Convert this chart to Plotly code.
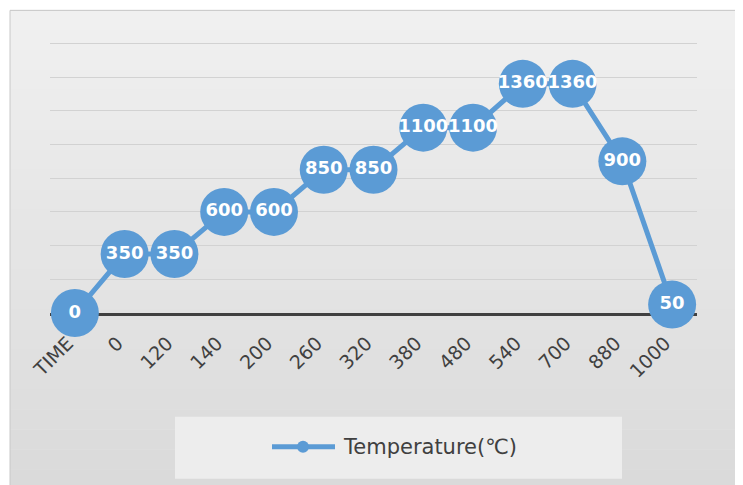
import plotly.graph_objects as go

categories = ["TIME", "0", "120", "140", "200", "260", "320", "380", "480", "540", "700", "880", "1000"]
temperature = [0, 350, 350, 600, 600, 850, 850, 1100, 1100, 1360, 1360, 900, 50]
series_name = "Temperature(℃)"
grid_values = [200, 400, 600, 800, 1000, 1200, 1400, 1600]

BLUE = "#5b9bd5"
OFF = 8                      # page body margin
W, H = 743 - OFF, 485 - OFF  # figure size so it fits the window
YMAX = 1620
PL, PR, PB = 50, 697, 313    # plot area in page pixels
PT = PB - 270 * YMAX / 1600
L, T = PL - OFF, PT - OFF
R, B = W - (PR - OFF), H - (PB - OFF)
pw, ph = PR - PL, PB - PT

def px_x(p):
    return (p - PL) / pw

def px_y(p):
    return (PB - p) / ph

shapes = []
# chart area background with a soft vertical gradient
n = 24
top_c, bot_c = (0xf0, 0xf0, 0xf0), (0xda, 0xda, 0xda)
y_top, y_bot = 10, 490
for i in range(n):
    f = i / (n - 1)
    c = tuple(int(round(top_c[k] + (bot_c[k] - top_c[k]) * f)) for k in range(3))
    y0 = y_top + (y_bot - y_top) * i / n
    y1 = y_top + (y_bot - y_top) * (i + 1) / n
    shapes.append(dict(type="rect", xref="paper", yref="paper",
                       x0=px_x(10), x1=px_x(760), y0=px_y(y1), y1=px_y(y0) + 0.002,
                       fillcolor="rgb(%d,%d,%d)" % c, line=dict(width=0), layer="below"))
# thin border at top/left of chart area
shapes.append(dict(type="rect", xref="paper", yref="paper",
                   x0=px_x(10), x1=px_x(760), y0=px_y(500), y1=px_y(10),
                   fillcolor="rgba(0,0,0,0)", line=dict(color="#c8c8c8", width=1), layer="below"))
# legend box
shapes.append(dict(type="rect", xref="paper", yref="paper",
                   x0=px_x(175), x1=px_x(622), y0=px_y(479), y1=px_y(417),
                   fillcolor="#ededed", line=dict(width=0), layer="below"))
# legend symbol: line + marker
shapes.append(dict(type="line", xref="paper", yref="paper",
                   x0=px_x(272), x1=px_x(335), y0=px_y(447), y1=px_y(447),
                   line=dict(color=BLUE, width=5)))
shapes.append(dict(type="circle", xref="paper", yref="paper",
                   x0=px_x(297), x1=px_x(309), y0=px_y(453), y1=px_y(441),
                   fillcolor=BLUE, line=dict(width=0)))

fig = go.Figure()
fig.add_trace(go.Scatter(
    x=categories, y=temperature, mode="lines+markers", name=series_name,
    line=dict(color=BLUE, width=5),
    marker=dict(color=BLUE, size=48, line=dict(width=0)),
    hoverinfo="skip", showlegend=False, cliponaxis=False,
))
fig.add_trace(go.Scatter(
    x=categories, y=temperature, mode="text", showlegend=False,
    text=[str(v) for v in temperature], textposition="middle center",
    textfont=dict(family="DejaVu Sans", size=18, color="white", weight="bold"),
    hoverinfo="skip", cliponaxis=False,
))

fig.update_layout(
    width=W, height=H,
    margin=dict(l=L, r=R, t=T, b=B),
    paper_bgcolor="white", plot_bgcolor="rgba(0,0,0,0)",
    shapes=shapes,
    showlegend=False,
    annotations=[dict(text=series_name, xref="paper", yref="paper",
                      x=px_x(341), y=px_y(447), xanchor="left", yanchor="middle",
                      showarrow=False,
                      font=dict(family="DejaVu Sans", size=21, color="#404040"))],
    xaxis=dict(type="category", range=[-0.5, len(categories) - 0.5],
               showgrid=False, showline=True, linecolor="#404040", linewidth=2.5,
               layer="below traces",
               ticks="outside", ticklen=9, tickcolor="rgba(0,0,0,0)", tickangle=-45,
               ticklabelshift=-7,
               tickfont=dict(family="DejaVu Sans", size=19, color="#404040")),
    yaxis=dict(range=[0, YMAX], tickvals=grid_values, layer="below traces",
               showgrid=True, gridcolor="#d2d2d2", gridwidth=1.3,
               showticklabels=False, zeroline=False, showline=False, ticks=""),
)

fig.write_html("out.html")
